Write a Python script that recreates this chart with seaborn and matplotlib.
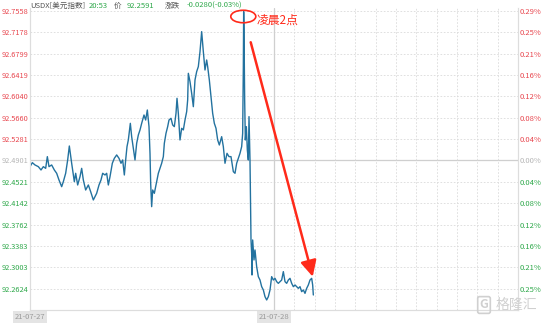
import matplotlib
matplotlib.use("Agg")
import matplotlib.pyplot as plt
import seaborn as sns
import pandas as pd
from matplotlib.patches import Ellipse

# ---- data (hours since start of 21-07-27 session, USDX price) ----
hours = [0.000, 0.230, 0.492, 0.820, 1.082, 1.311, 1.541, 1.705, 1.869, 2.131,
         2.393, 2.623, 2.852, 3.115, 3.279, 3.508, 3.705, 3.869, 4.098, 4.361,
         4.492, 4.689, 4.918, 5.082, 5.246, 5.475, 5.738, 5.967, 6.229, 6.393,
         6.557, 6.787, 6.984, 7.148, 7.377, 7.541, 7.705, 7.869, 8.098, 8.295,
         8.525, 8.754, 8.951, 9.115, 9.279, 9.410, 9.541, 9.672, 9.869, 10.000,
         10.164, 10.328, 10.492, 10.656, 10.820, 10.984, 11.213, 11.377, 11.541, 11.705,
         11.803, 11.869, 11.967, 12.066, 12.230, 12.459, 12.623, 12.787, 12.951, 13.115,
         13.213, 13.377, 13.541, 13.672, 13.869, 14.033, 14.197, 14.361, 14.459, 14.590,
         14.754, 14.918, 15.082, 15.246, 15.410, 15.508, 15.574, 15.738, 15.902, 16.066,
         16.230, 16.393, 16.557, 16.721, 16.885, 17.049, 17.213, 17.377, 17.475, 17.639,
         17.803, 17.967, 18.131, 18.295, 18.459, 18.623, 18.852, 19.016, 19.180, 19.377,
         19.574, 19.770, 20.000, 20.164, 20.328, 20.492, 20.656, 20.820, 20.918, 20.984,
         21.016, 21.049, 21.115, 21.180, 21.279, 21.377, 21.475, 21.541, 21.639, 21.705,
         21.738, 21.803, 21.836, 21.902, 22.033, 22.131, 22.295, 22.459, 22.623, 22.787,
         22.951, 23.115, 23.279, 23.443, 23.607, 23.770, 23.934, 24.098, 24.262, 24.426,
         24.590, 24.754, 24.918, 25.082, 25.246, 25.410, 25.574, 25.738, 25.902, 26.066,
         26.230, 26.393, 26.557, 26.721, 26.885, 27.049, 27.213, 27.377, 27.541, 27.705,
         27.803, 27.869]
prices = [92.4791, 92.4862, 92.4821, 92.4791, 92.4732, 92.4791, 92.4761, 92.4969, 92.4791, 92.4821,
          92.4732, 92.4673, 92.4554, 92.4435, 92.4524, 92.4673, 92.4910, 92.5158, 92.4851, 92.4524,
          92.4673, 92.4465, 92.4613, 92.4761, 92.4554, 92.4376, 92.4465, 92.4346, 92.4199, 92.4258,
          92.4317, 92.4465, 92.4554, 92.4673, 92.4643, 92.4673, 92.4465, 92.4613, 92.4851, 92.4939,
          92.4999, 92.4939, 92.4851, 92.4910, 92.4643, 92.4910, 92.5147, 92.5265, 92.5561, 92.5324,
          92.5117, 92.4910, 92.5206, 92.5354, 92.5443, 92.5561, 92.5709, 92.5620, 92.5798, 92.5502,
          92.5028, 92.4495, 92.4080, 92.4376, 92.4317, 92.4524, 92.4673, 92.4761, 92.4851, 92.4969,
          92.5206, 92.5384, 92.5502, 92.5620, 92.5650, 92.5532, 92.5502, 92.5739, 92.6006, 92.5739,
          92.5265, 92.5473, 92.5443, 92.5620, 92.5769, 92.5976, 92.6450, 92.6302, 92.6094, 92.5857,
          92.6332, 92.6480, 92.6569, 92.6835, 92.7191, 92.6835, 92.6509, 92.6687, 92.6569, 92.6332,
          92.6035, 92.5739, 92.5561, 92.5473, 92.5265, 92.5176, 92.5324, 92.5147, 92.4851, 92.5028,
          92.4969, 92.4969, 92.4702, 92.4673, 92.4851, 92.4939, 92.5028, 92.5147, 92.5384, 92.6569,
          92.7546, 92.7220, 92.5976, 92.5265, 92.5502, 92.5087, 92.4910, 92.5680, 92.4910, 92.3961,
          92.3488, 92.3250, 92.2865, 92.3488, 92.3132, 92.3310, 92.3013, 92.2836, 92.2776, 92.2658,
          92.2599, 92.2480, 92.2421, 92.2480, 92.2599, 92.2836, 92.2776, 92.2806, 92.2747, 92.2717,
          92.2747, 92.2776, 92.2925, 92.2747, 92.2717, 92.2776, 92.2806, 92.2717, 92.2658, 92.2688,
          92.2658, 92.2628, 92.2658, 92.2569, 92.2599, 92.2539, 92.2628, 92.2688, 92.2776, 92.2806,
          92.2688, 92.2510]

price_ticks = [92.7558, 92.7178, 92.6799, 92.6419, 92.6040, 92.5660, 92.5281,
               92.4901, 92.4521, 92.4142, 92.3762, 92.3383, 92.3003, 92.2624]
pct_labels = ["0.29%", "0.25%", "0.21%", "0.16%", "0.12%", "0.08%", "0.04%",
              "0.00%", "0.04%", "0.08%", "0.12%", "0.16%", "0.21%", "0.25%"]
tick_sign = [1, 1, 1, 1, 1, 1, 1, 0, -1, -1, -1, -1, -1, -1]
date_labels = ["21-07-27", "21-07-28"]
date_pos = [0, 24]
prev_close = 92.4901

header_parts = ["USDX[美元指数]", "20:53", "价", "92.2591", "涨跌", "-0.0280(-0.03%)"]
header_kind = ["name", "up", "name", "up", "name", "up"]
annot_text = "凌晨2点"

# ---- style ----
RED = "#e8474f"
GREEN = "#2ea84a"
GRAY = "#b5b5b5"
LINE = "#23729f"
ARROW = "#ff2a1a"
sign_color = {1: RED, 0: GRAY, -1: GREEN}

sns.set_theme(style="white")
plt.rcParams['font.family'] = ['Noto Sans CJK SC', 'DejaVu Sans']

W, H = 554, 323
fig = plt.figure(figsize=(W / 100, H / 100), dpi=100)
fig.patch.set_facecolor("white")
ax = fig.add_axes([30 / W, 1 - 310 / H, 488 / W, 302 / H])

df = pd.DataFrame({"h": hours, "p": prices})

# grid
for v in price_ticks:
    if v == prev_close:
        ax.axhline(v, color="#cfcfcf", lw=0.9, zorder=1)
    else:
        ax.axhline(v, color="#dadada", lw=0.6, dashes=(2, 2), zorder=1)
ax.axvline(24, color="#cfcfcf", lw=0.9, zorder=1)
for h in range(26, 48, 2):
    ax.axvline(h, color="#dadada", lw=0.6, dashes=(2, 2), zorder=1)

sns.lineplot(data=df, x="h", y="p", ax=ax, color=LINE, linewidth=1.0,
             estimator=None, sort=False, zorder=3)

ylim = (92.2243, 92.7611)
ax.set_xlim(0, 48)
ax.set_ylim(*ylim)
ax.set_xlabel("")
ax.set_ylabel("")
ax.set_xticks([])
ax.set_yticks(price_ticks)
ax.set_yticklabels([f"{v:.4f}" for v in price_ticks])
ax.tick_params(axis="y", length=0, pad=1.2, labelsize=5.3)
for lab, s in zip(ax.get_yticklabels(), tick_sign):
    lab.set_color(sign_color[s])

for side in ["left", "right", "bottom"]:
    ax.spines[side].set_color("#dddddd")
    ax.spines[side].set_linewidth(0.8)
ax.spines["top"].set_visible(False)

ax2 = ax.twinx()
ax2.set_ylim(*ylim)
ax2.set_yticks(price_ticks)
ax2.set_yticklabels(pct_labels)
ax2.tick_params(axis="y", length=0, pad=1.5, labelsize=5.5)
for lab, s in zip(ax2.get_yticklabels(), tick_sign):
    lab.set_color(sign_color[s])
ax2.spines["top"].set_visible(False)
for side in ["left", "right", "bottom"]:
    ax2.spines[side].set_color("#dddddd")
    ax2.spines[side].set_linewidth(0.8)
ax2.grid(False)

# date labels
for lbl, pos in zip(date_labels, date_pos):
    ax.text(pos, -0.023, lbl, transform=ax.get_xaxis_transform(), ha="center", va="center",
            fontsize=5.5, color="#9a9a9a",
            bbox=dict(boxstyle="square,pad=0.25", facecolor="#e4e4e4", edgecolor="none"),
            clip_on=False)

# header: place pieces one after another
fig.canvas.draw()
renderer = fig.canvas.get_renderer()
gaps = [4, 6, 5, 10, 7, 0]
xp = 30.0
for txt, kind, gap in zip(header_parts, header_kind, gaps):
    t = fig.text(xp / W, 1 - 6 / H, txt, ha="left", va="center", fontsize=5.5,
                 color="#555555" if kind == "name" else GREEN)
    bb = t.get_window_extent(renderer=renderer)
    xp += bb.width + gap

# annotation: ellipse, label, arrow
ell = Ellipse((20.98, 92.746), width=2.46, height=0.0222, fill=False,
              edgecolor=ARROW, lw=1.2, zorder=5, clip_on=False)
ax.add_patch(ell)
ax.text(22.33, 92.7398, annot_text, color=ARROW, fontsize=8.5, ha="left", va="center", zorder=5)
ax.annotate("", xy=(27.81, 92.2835), xytext=(21.71, 92.7002),
            arrowprops=dict(arrowstyle="-|>,head_length=0.8,head_width=0.4", color=ARROW,
                            lw=1.8, shrinkA=0, shrinkB=0), zorder=6)

# watermark
fig.text(484 / W, 1 - 305 / H, "G", ha="center", va="center", fontsize=9, color="#d0d0d0",
         fontweight="bold",
         bbox=dict(boxstyle="round,pad=0.15", facecolor="none", edgecolor="#d0d0d0", lw=1.2))
fig.text(496 / W, 1 - 305 / H, "格隆汇", ha="left", va="center", fontsize=10, color="#d0d0d0")

fig.savefig("out.png", dpi=100, facecolor="white")
